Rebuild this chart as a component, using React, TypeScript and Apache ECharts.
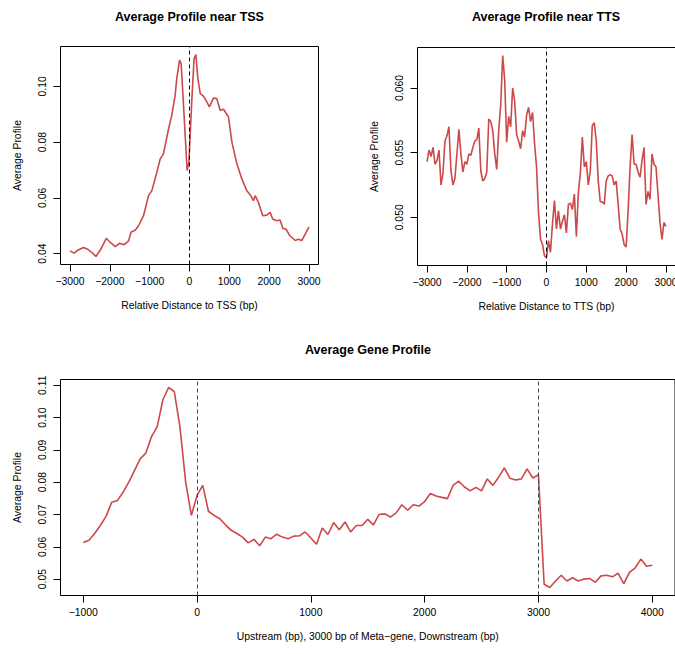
import React, { useEffect, useRef } from "react";
import * as echarts from "echarts";

// ---------- data ----------
// Panel 1: Average Profile near TSS (positions in bp, values)
const tssPos = [
  -3000, -2900, -2810, -2660, -2560, -2450, -2350, -2240, -2090, -1990, -1865, -1760, -1640, -1530, -1465, -1365,
  -1280, -1155, -1030, -945, -820, -735, -655, -525, -445, -360, -320, -250, -210, -150, -60, -15,
  60, 115, 160, 210, 270, 350, 435, 500, 600, 685, 770, 855, 980, 1065, 1190, 1315,
  1440, 1540, 1605, 1650, 1730, 1840, 1940, 2025, 2090, 2190, 2275, 2345, 2425, 2510, 2655, 2735,
  2820, 2905, 3000,
];
const tssVal = [
  0.041, 0.0402, 0.0412, 0.0422, 0.0416, 0.0404, 0.039, 0.0413, 0.0455, 0.044, 0.0425, 0.0437, 0.0432, 0.0446, 0.0478, 0.0484,
  0.05, 0.0536, 0.0608, 0.0626, 0.0692, 0.074, 0.0758, 0.0848, 0.0896, 0.0968, 0.1028, 0.1094, 0.1082, 0.0932, 0.0698, 0.0728,
  0.0956, 0.11, 0.1114, 0.1028, 0.0974, 0.0965, 0.0944, 0.0926, 0.0958, 0.0956, 0.0914, 0.0918, 0.089, 0.08, 0.0722, 0.0668,
  0.0626, 0.0608, 0.059, 0.0608, 0.0584, 0.0536, 0.0538, 0.0548, 0.0524, 0.0518, 0.0521, 0.049, 0.0488, 0.0466, 0.0447, 0.0452,
  0.0447, 0.047, 0.0496,
];

// Panel 2: Average Profile near TTS, -3000..3000 every 50 bp
const ttsStart = -3000;
const ttsStep = 50;
const ttsVal = [
  0.0543, 0.0552, 0.0547, 0.0554, 0.0541, 0.0544, 0.0552, 0.0525, 0.0534, 0.0559, 0.0563, 0.057, 0.0536, 0.0525, 0.053, 0.0549,
  0.0568, 0.0549, 0.0535, 0.0543, 0.0541, 0.0549, 0.0548, 0.0554, 0.0559, 0.056, 0.0569, 0.0536, 0.0528, 0.053, 0.0535, 0.0576,
  0.0574, 0.0567, 0.0549, 0.0537, 0.0567, 0.0587, 0.0625, 0.0606, 0.0558, 0.0578, 0.057, 0.06, 0.059, 0.0564, 0.0559, 0.0553,
  0.0567, 0.0562, 0.0579, 0.0585, 0.0574, 0.0581, 0.0557, 0.0539, 0.0503, 0.0483, 0.0479, 0.047, 0.0469, 0.0482, 0.0473, 0.0495,
  0.0513, 0.0491, 0.0505, 0.0491, 0.0497, 0.0502, 0.0488, 0.051, 0.0511, 0.0506, 0.0518, 0.0485, 0.0519, 0.0534, 0.0562, 0.0539,
  0.0543, 0.0525, 0.0536, 0.0571, 0.0573, 0.0559, 0.0528, 0.0512, 0.0512, 0.051, 0.0528, 0.0532, 0.0533, 0.0532, 0.0525, 0.0528,
  0.051, 0.0491, 0.0487, 0.0479, 0.0477, 0.0505, 0.0539, 0.0564, 0.0541, 0.0541, 0.0535, 0.0531, 0.0544, 0.0554, 0.051, 0.052,
  0.0514, 0.0549, 0.0541, 0.0539, 0.0518, 0.0496, 0.0483, 0.0496, 0.0493,
];

// Panel 3: Average Gene Profile, -1000..4000 every 50 bp
const geneStart = -1000;
const geneStep = 50;
const geneVal = [
  0.0613, 0.062, 0.0641, 0.0666, 0.0694, 0.0738, 0.0743, 0.0769, 0.08, 0.0836, 0.0872, 0.089, 0.0941, 0.0972, 0.1055, 0.1093,
  0.108, 0.097, 0.08, 0.0697, 0.0759, 0.079, 0.071, 0.0697, 0.0687, 0.0668, 0.0651, 0.0641, 0.063, 0.0612, 0.0623, 0.0603,
  0.063, 0.0625, 0.0639, 0.063, 0.0625, 0.0633, 0.0634, 0.0646, 0.0627, 0.0608, 0.0658, 0.0638, 0.0675, 0.0653, 0.0677, 0.0646,
  0.0666, 0.0666, 0.0685, 0.0668, 0.07, 0.0702, 0.0692, 0.0705, 0.073, 0.0713, 0.073, 0.0726, 0.074, 0.0765, 0.0757, 0.0753,
  0.0749, 0.079, 0.0803, 0.0785, 0.0773, 0.0784, 0.0773, 0.081, 0.079, 0.0815, 0.0844, 0.0812, 0.0807, 0.081, 0.0841, 0.0813,
  0.0823, 0.0484, 0.0474, 0.0494, 0.0512, 0.0494, 0.0504, 0.0494, 0.05, 0.0502, 0.049, 0.051, 0.0512, 0.0507, 0.0518, 0.0486,
  0.0521, 0.0535, 0.0562, 0.054, 0.0543,
];

// ticks
const tssXTicks = [-3000, -2000, -1000, 0, 1000, 2000, 3000];
const tssYTicks = [0.04, 0.06, 0.08, 0.1];
const ttsXTicks = [-3000, -2000, -1000, 0, 1000, 2000, 3000];
const ttsYTicks = [0.05, 0.055, 0.06];
const geneXTicks = [-1000, 0, 1000, 2000, 3000, 4000];
const geneYTicks = [0.05, 0.06, 0.07, 0.08, 0.09, 0.1, 0.11];
const tssMarks = [0];
const ttsMarks = [0];
const geneMarks = [0, 3000];

// ---------- styles ----------
const FONT = "'Liberation Sans', Arial, Helvetica, sans-serif";
const LINE_COLOR = "#CD4848";
const AX_FS = 10.4;

const fmtX = (v: number) => String(v).replace("-", "\u2212");

const rMin = (e: { min: number; max: number }) => e.min - 0.04 * (e.max - e.min);
const rMax = (e: { min: number; max: number }) => e.max + 0.04 * (e.max - e.min);

function xAxisCfg(gridIndex: number, ticks: number[], name: string) {
  return {
    type: "value",
    gridIndex,
    position: "bottom",
    min: rMin,
    max: rMax,
    splitLine: { show: false },
    axisLine: { show: false, onZero: false },
    axisTick: { show: true, inside: false, length: 7, customValues: ticks, lineStyle: { color: "#000", width: 1 } },
    axisLabel: {
      customValues: ticks,
      formatter: fmtX,
      margin: 12,
      fontSize: AX_FS,
      color: "#000",
      fontFamily: FONT,
      alignMinLabel: "center",
      alignMaxLabel: "center",
    },
    name,
    nameLocation: "middle",
    nameGap: 36,
    nameTextStyle: { fontSize: AX_FS, color: "#000", fontFamily: FONT },
  };
}

function yAxisCfg(gridIndex: number, ticks: number[], digits: number) {
  return {
    type: "value",
    gridIndex,
    position: "left",
    min: rMin,
    max: rMax,
    splitLine: { show: false },
    axisLine: { show: false, onZero: false },
    axisTick: { show: true, inside: false, length: 7, customValues: ticks, lineStyle: { color: "#000", width: 1 } },
    axisLabel: {
      customValues: ticks,
      formatter: (v: number) => v.toFixed(digits),
      rotate: 90,
      margin: 13,
      fontSize: AX_FS,
      color: "#000",
      fontFamily: FONT,
    },
    name: "Average Profile",
    nameLocation: "middle",
    nameGap: 38,
    nameTextStyle: { fontSize: AX_FS, color: "#000", fontFamily: FONT },
  };
}

function lineSeries(idx: number, data: number[][], marks: number[], markColor: string) {
  return {
    type: "line",
    xAxisIndex: idx,
    yAxisIndex: idx,
    data,
    showSymbol: false,
    symbol: "none",
    lineStyle: { color: LINE_COLOR, width: 1.6 },
    itemStyle: { color: LINE_COLOR },
    silent: true,
    markLine: {
      silent: true,
      symbol: ["none", "none"],
      label: { show: false },
      lineStyle: { type: [4, 3], color: markColor, width: 1 },
      data: marks.map((m) => ({ xAxis: m })),
    },
  };
}

const gridBase = {
  show: true,
  borderColor: "#000",
  borderWidth: 1,
  backgroundColor: "transparent",
  containLabel: false,
  outerBoundsMode: "none",
};

export default function App() {
  const ref = useRef<HTMLDivElement>(null);
  useEffect(() => {
    if (!ref.current) return;
    const chart = echarts.init(ref.current, null, { renderer: "svg" });
    const tssData = tssPos.map((p, i) => [p, tssVal[i]]);
    const ttsData = ttsVal.map((v, i) => [ttsStart + i * ttsStep, v]);
    const geneData = geneVal.map((v, i) => [geneStart + i * geneStep, v]);
    const titleStyle = { fontSize: 12.5, fontWeight: "bold", color: "#000", fontFamily: FONT };
    chart.setOption({
      animation: false,
      backgroundColor: "#fff",
      textStyle: { fontFamily: FONT },
      title: [
        { text: "Average Profile near TSS", left: 189.5, top: 10.5, textAlign: "center", padding: 0, textStyle: titleStyle },
        { text: "Average Profile near TTS", left: 546, top: 10.5, textAlign: "center", padding: 0, textStyle: titleStyle },
        { text: "Average Gene Profile", left: 368, top: 343.5, textAlign: "center", padding: 0, textStyle: titleStyle },
      ],
      grid: [
        { ...gridBase, left: 60.5, top: 46.5, width: 258, height: 218 },
        { ...gridBase, left: 417.5, top: 47.5, width: 258, height: 218 },
        { ...gridBase, left: 60.5, top: 379.5, width: 614.5, height: 216 },
      ],
      xAxis: [
        xAxisCfg(0, tssXTicks, "Relative Distance to TSS (bp)"),
        xAxisCfg(1, ttsXTicks, "Relative Distance to TTS (bp)"),
        xAxisCfg(2, geneXTicks, "Upstream (bp), 3000 bp of Meta\u2212gene, Downstream (bp)"),
      ],
      yAxis: [yAxisCfg(0, tssYTicks, 2), yAxisCfg(1, ttsYTicks, 3), yAxisCfg(2, geneYTicks, 2)],
      series: [
        lineSeries(0, tssData, tssMarks, "#000"),
        lineSeries(1, ttsData, ttsMarks, "#000"),
        lineSeries(2, geneData, geneMarks, "#444"),
      ],
    });
    return () => chart.dispose();
  }, []);
  return (
    <div
      ref={ref}
      style={{ position: "absolute", left: 0, top: 0, width: 675, height: 654, background: "#fff" }}
    />
  );
}
